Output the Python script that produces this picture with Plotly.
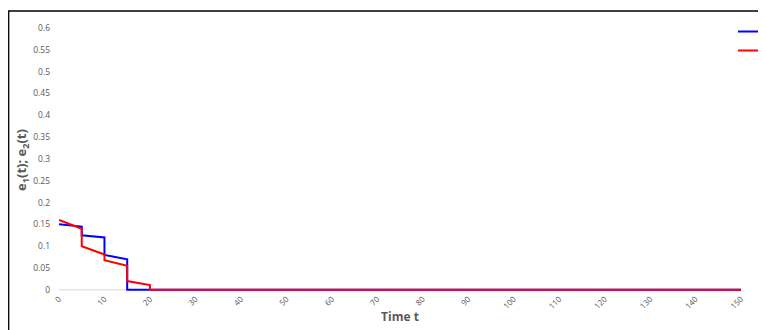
import plotly.graph_objects as go

t_e1 = [0, 5, 5, 10, 10, 15, 15, 150]
e1 = [0.15, 0.145, 0.125, 0.12, 0.08, 0.07, 0, 0]
t_e2 = [0, 5, 5, 10, 10, 15, 15, 20, 20, 150]
e2 = [0.16, 0.14, 0.10, 0.081, 0.068, 0.055, 0.02, 0.011, 0, 0]
names = ["e₁(t)", "e₂(t)"]

# page body has an 8px margin; figure coordinates = page coordinates - 8
OFF = 8
W, H = 766 - OFF, 330 - OFF
YMIN, YMAX = -0.005, 0.6
L, T = 59 - OFF, 28 - OFF
R = W - (741 - OFF)
ppu = (290 - 28) / 0.6
B = H - ((290 - OFF) + (-YMIN) * ppu)
pw, ph = W - L - R, H - T - B

fig = go.Figure()
fig.add_trace(go.Scatter(x=t_e1, y=e1, mode="lines", name=names[0],
                         line=dict(color="#0000FF", width=2)))
fig.add_trace(go.Scatter(x=t_e2, y=e2, mode="lines", name=names[1],
                         line=dict(color="#FF0000", width=2)))

gray = "#595959"
fig.update_layout(
    width=W, height=H,
    margin=dict(l=L, r=R, t=T, b=B, autoexpand=False),
    paper_bgcolor="white", plot_bgcolor="white",
    font=dict(family="Open Sans, Arial, sans-serif", color=gray, size=8),
    showlegend=True,
    legend=dict(x=(733 - OFF - L) / pw, y=1 + (T - 9) / ph, xanchor="left", yanchor="top",
                font=dict(size=8, color=gray), bgcolor="rgba(0,0,0,0)",
                tracegroupgap=0, itemwidth=30),
    xaxis=dict(range=[0, 150], dtick=10, tick0=0, tickangle=-45, showgrid=False,
               zeroline=False, showline=False, ticks="",
               tickfont=dict(size=8, color=gray),
               title=dict(text="<b>Time t</b>", font=dict(size=12, color=gray), standoff=2)),
    yaxis=dict(range=[YMIN, YMAX], dtick=0.05, tick0=0, showgrid=False, zeroline=False,
               showline=False, ticks="", ticklabelstandoff=8,
               tickfont=dict(size=8.5, color=gray),
               title=dict(text="<b>e<sub>1</sub>(t); e<sub>2</sub>(t)</b>",
                          font=dict(size=13, color=gray), standoff=3)),
)

# light gray baseline at y=0
fig.add_shape(type="line", xref="paper", yref="y", x0=0, x1=1, y0=0, y1=0,
              line=dict(color="#D9D9D9", width=1), layer="below")
# chart border
fig.add_shape(type="rect", xref="paper", yref="paper",
              x0=(0.7 - L) / pw, x1=(W + 10 - L) / pw,
              y0=-(B + 10) / ph, y1=1 + (T - 3) / ph,
              line=dict(color="black", width=1.3), layer="below")

fig.write_html("out.html")
